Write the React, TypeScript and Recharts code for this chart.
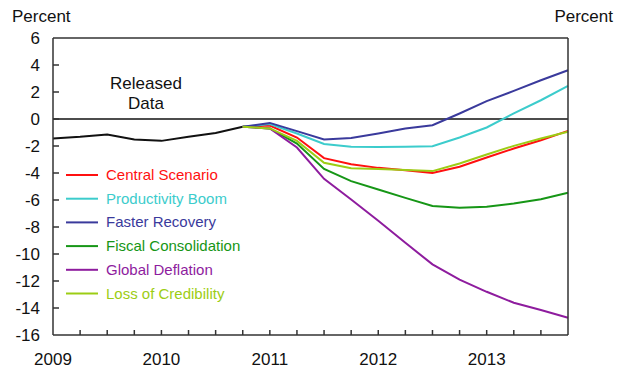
import { LineChart, Line, XAxis, YAxis, ReferenceLine, Legend } from 'recharts';

const FONT = '"Liberation Sans", Arial, sans-serif';

const quarters = [
  '2009Q1', '2009Q2', '2009Q3', '2009Q4',
  '2010Q1', '2010Q2', '2010Q3', '2010Q4',
  '2011Q1', '2011Q2', '2011Q3', '2011Q4',
  '2012Q1', '2012Q2', '2012Q3', '2012Q4',
  '2013Q1', '2013Q2', '2013Q3', '2013Q4',
];

// released data runs 2009Q1..2010Q4
const releasedData = [-1.44, -1.32, -1.15, -1.52, -1.62, -1.32, -1.03, -0.58];

// scenarios run 2010Q4..2013Q4
const scenarioStart = 7;
const centralScenario = [-0.58, -0.48, -1.37, -2.9, -3.35, -3.62, -3.79, -3.99, -3.54, -2.85, -2.19, -1.57, -0.88];
const productivityBoom = [-0.58, -0.37, -1.07, -1.85, -2.06, -2.08, -2.06, -2.01, -1.37, -0.63, 0.41, 1.39, 2.45];
const fasterRecovery = [-0.58, -0.29, -0.9, -1.52, -1.4, -1.07, -0.7, -0.46, 0.41, 1.32, 2.08, 2.87, 3.61];
const fiscalConsolidation = [-0.58, -0.7, -1.82, -3.7, -4.6, -5.22, -5.84, -6.45, -6.58, -6.5, -6.26, -5.94, -5.47];
const globalDeflation = [-0.58, -0.7, -2.11, -4.43, -5.96, -7.54, -9.17, -10.77, -11.9, -12.8, -13.61, -14.15, -14.72];
const lossOfCredibility = [-0.58, -0.7, -1.62, -3.24, -3.64, -3.7, -3.78, -3.86, -3.3, -2.63, -1.99, -1.44, -0.95];

const yTicks = [-16, -14, -12, -10, -8, -6, -4, -2, 0, 2, 4, 6];

const series = [
  { key: 'central', name: 'Central Scenario', color: '#ff1010', values: centralScenario },
  { key: 'productivity', name: 'Productivity Boom', color: '#3ccccc', values: productivityBoom },
  { key: 'faster', name: 'Faster Recovery', color: '#3a3a9c', values: fasterRecovery },
  { key: 'fiscal', name: 'Fiscal Consolidation', color: '#169616', values: fiscalConsolidation },
  { key: 'deflation', name: 'Global Deflation', color: '#8e1c9e', values: globalDeflation },
  { key: 'credibility', name: 'Loss of Credibility', color: '#9ccd14', values: lossOfCredibility },
];
const legendOrder = series.map(s => s.name);

const data = quarters.map((q, i) => {
  const row: any = { q, released: i < releasedData.length ? releasedData[i] : null };
  series.forEach(s => {
    row[s.key] = i >= scenarioStart ? s.values[i - scenarioStart] : null;
  });
  return row;
});

const AXIS = '#333';

function XTick({ x, y, payload, index }: any) {
  const q: string = payload.value;
  const edge = index === 0 || index === quarters.length - 1;
  return (
    <g>
      {!edge && <line x1={x} x2={x} y1={y} y2={y - 5} stroke={AXIS} strokeWidth={1.5} />}
      {q.endsWith('Q1') && (
        <text x={x} y={y + 30} textAnchor="middle" fontSize={17} fontFamily={FONT} fill="#111">
          {q.slice(0, 4)}
        </text>
      )}
    </g>
  );
}

function LeftTick({ x, y, payload }: any) {
  const v = payload.value;
  return (
    <g>
      {v !== 6 && v !== -16 && <line x1={x} x2={x + 6} y1={y} y2={y} stroke={AXIS} strokeWidth={1.5} />}
      <text x={x - 13} y={y + 6} textAnchor="end" fontSize={17} fontFamily={FONT} fill="#111">{v}</text>
    </g>
  );
}

function RightTick({ x, y, payload }: any) {
  const v = payload.value;
  return (
    <g>
      {v !== 6 && v !== -16 && <line x1={x} x2={x - 6} y1={y} y2={y} stroke={AXIS} strokeWidth={1.5} />}
      <text x={x + 14} y={y + 6} textAnchor="start" fontSize={17} fontFamily={FONT} fill="#111">{v}</text>
    </g>
  );
}

function LegendBox({ payload }: any) {
  const items = (payload || [])
    .filter((p: any) => p.type !== 'none')
    .sort((a: any, b: any) => legendOrder.indexOf(a.value) - legendOrder.indexOf(b.value));
  return (
    <svg width={220} height={150}>
      {items.map((p: any, i: number) => {
        const cy = 15 + i * 23.7;
        return (
          <g key={p.value}>
            <line x1={6} x2={38} y1={cy} y2={cy} stroke={p.color} strokeWidth={2} />
            <text x={46} y={cy + 5} fontSize={15} fontFamily={FONT} fill={p.color}>{p.value}</text>
          </g>
        );
      })}
    </svg>
  );
}

export default function App() {
  return (
    <div style={{ position: 'relative', width: 624, height: 370, background: '#fff' }}>
      <style>{'body{margin:0}'}</style>
      <LineChart width={624} height={370} data={data} margin={{ top: 38, right: 0, bottom: 0, left: 0 }}>
        <XAxis
          dataKey="q"
          interval={0}
          padding={{ left: 0, right: 0 }}
          height={35}
          tickSize={0}
          tickMargin={0}
          axisLine={{ stroke: AXIS, strokeWidth: 1.5 }}
          tickLine={false}
          tick={<XTick />}
        />
        <YAxis
          yAxisId="left"
          domain={[-16, 6]}
          ticks={yTicks}
          width={53}
          tickSize={0}
          tickMargin={0}
          axisLine={{ stroke: AXIS, strokeWidth: 1.5 }}
          tickLine={false}
          tick={<LeftTick />}
        />
        <YAxis
          yAxisId="right"
          orientation="right"
          domain={[-16, 6]}
          ticks={yTicks}
          width={56}
          tickSize={0}
          tickMargin={0}
          axisLine={{ stroke: AXIS, strokeWidth: 1.5 }}
          tickLine={false}
          tick={<RightTick />}
        />
        <ReferenceLine yAxisId="left" y={6} stroke={AXIS} strokeWidth={1.5} />
        <ReferenceLine yAxisId="left" y={0} stroke="#111" strokeWidth={1.3} />
        <Legend
          layout="vertical"
          align="center"
          verticalAlign="middle"
          content={<LegendBox />}
          wrapperStyle={{ left: 60, top: 160, width: 220, height: 150 }}
        />
        <Line
          yAxisId="left"
          dataKey="released"
          name="Released Data"
          stroke="#111"
          strokeWidth={2}
          dot={false}
          legendType="none"
          isAnimationActive={false}
        />
        {series.map(s => (
          <Line
            key={s.key}
            yAxisId="left"
            dataKey={s.key}
            name={s.name}
            stroke={s.color}
            strokeWidth={2}
            dot={false}
            isAnimationActive={false}
          />
        ))}
      </LineChart>
      <svg width={624} height={370} style={{ position: 'absolute', left: 0, top: 0, pointerEvents: 'none' }}>
        <text x={12} y={22} fontSize={17} fontFamily={FONT} fill="#111">Percent</text>
        <text x={613} y={22} fontSize={17} fontFamily={FONT} fill="#111" textAnchor="end">Percent</text>
        <text x={146} y={89} fontSize={17} fontFamily={FONT} fill="#111" textAnchor="middle">Released</text>
        <text x={146} y={109} fontSize={17} fontFamily={FONT} fill="#111" textAnchor="middle">Data</text>
      </svg>
    </div>
  );
}
